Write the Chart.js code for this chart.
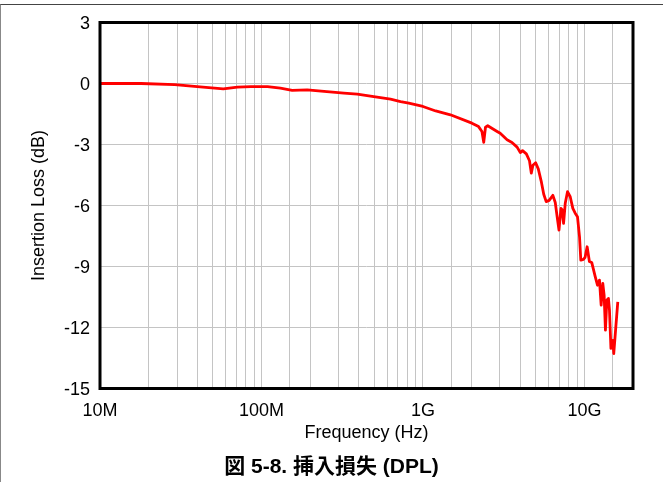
<!DOCTYPE html>
<html>
<head>
<meta charset="utf-8">
<script src="https://cdn.jsdelivr.net/npm/chart.js@4/dist/chart.umd.min.js"></script>
<style>
  html, body { margin: 0; padding: 0; background: #fff; }
  #wrap { position: relative; width: 663px; height: 482px; overflow: hidden; }
  #frame { position: absolute; left: 0; top: 4px; width: 700px; height: 500px;
           border-top: 1px solid #444; border-left: 1px solid #888; }
  #caption { position: absolute; left: 0; top: 453px; width: 663px; height: 26px;
             line-height: 26px; text-align: center; font-weight: bold; font-size: 21px;
             font-family: "Liberation Sans", "Noto Sans CJK JP", sans-serif; color: #000; }
</style>
</head>
<body>
<div id="wrap">
  <canvas id="chart" width="663" height="482"></canvas>
  <div id="frame"></div>
  <div id="caption">図 5-8. 挿入損失 (DPL)</div>
</div>
<script>
// frequency points (Hz) and insertion loss (dB)
const freqHz = [
  1e7, 1.8e7, 2.9e7, 4.0e7, 5.8e7, 7.1e7, 8.6e7, 1.09e8, 1.31e8, 1.55e8,
  1.92e8, 2.44e8, 3.24e8, 3.92e8, 4.96e8, 6.3e8, 7.27e8, 8.17e8, 1.0e9, 1.2e9,
  1.48e9, 2.01e9, 2.21e9, 2.32e9, 2.38e9, 2.44e9, 2.52e9, 2.88e9, 3.01e9, 3.32e9,
  3.56e9, 3.83e9, 4.01e9, 4.14e9, 4.37e9, 4.57e9, 4.69e9, 4.8e9, 4.99e9, 5.18e9,
  5.4e9, 5.6e9, 5.8e9, 6.05e9, 6.38e9, 6.6e9, 6.82e9, 6.96e9, 7.16e9, 7.29e9,
  7.43e9, 7.61e9, 7.86e9, 8.17e9, 8.48e9, 8.77e9, 9.06e9, 9.33e9, 9.5e9, 9.87e9,
  1.01e10, 1.04e10, 1.074e10, 1.11e10, 1.167e10, 1.205e10, 1.24e10, 1.27e10, 1.30e10, 1.325e10,
  1.35e10, 1.377e10, 1.409e10, 1.43e10, 1.46e10, 1.50e10, 1.52e10, 1.56e10, 1.61e10
];
const lossDb = [
  0, 0, -0.06, -0.15, -0.26, -0.18, -0.15, -0.15, -0.23, -0.34,
  -0.31, -0.39, -0.47, -0.52, -0.64, -0.77, -0.89, -0.97, -1.13, -1.35,
  -1.54, -1.95, -2.12, -2.36, -2.89, -2.15, -2.08, -2.36, -2.45, -2.77,
  -2.9, -3.13, -3.4, -3.3, -3.46, -3.8, -4.41, -4.02, -3.9, -4.2,
  -4.8, -5.45, -5.81, -5.75, -5.5, -5.85, -6.71, -7.21, -6.14, -6.22,
  -6.88, -5.89, -5.32, -5.57, -6.14, -6.38, -6.55, -7.54, -8.69, -8.65,
  -8.55, -8.03, -8.75, -8.8, -9.5, -9.92, -9.67, -10.9, -9.83, -10.41,
  -12.13, -10.66, -10.57, -11.15, -13.03, -12.63, -13.28, -12.13, -10.74
];

const xTickValues = [1e7, 1e8, 1e9, 1e10];
const xTickLabels = ['10M', '100M', '1G', '10G'];
const yTickValues = [3, 0, -3, -6, -9, -12, -15];

const tickFont = { family: "'Liberation Sans', Arial, sans-serif", size: 18 };

const points = freqHz.map((f, i) => ({ x: f, y: lossDb[i] }));

// thick black box round the plot area
const plotFrame = {
  id: 'plotFrame',
  afterDatasetsDraw(chart) {
    const { ctx, chartArea: a } = chart;
    ctx.save();
    ctx.strokeStyle = '#000';
    ctx.lineWidth = 3;
    ctx.strokeRect(a.left, a.top, a.right - a.left, a.bottom - a.top);
    ctx.restore();
  }
};

new Chart(document.getElementById('chart'), {
  type: 'line',
  data: {
    datasets: [{
      data: points,
      borderColor: '#ff0000',
      borderWidth: 2.8,
      pointRadius: 0,
      tension: 0,
      borderJoinStyle: 'round',
      fill: false
    }]
  },
  options: {
    responsive: false,
    animation: false,
    layout: { padding: { left: 0, right: 30, top: 22.5, bottom: 38.2 } },
    plugins: { legend: { display: false }, tooltip: { enabled: false } },
    scales: {
      x: {
        type: 'logarithmic',
        min: 1e7,
        max: 2e10,
        afterFit: s => { s.height = 55.3; },
        border: { display: false },
        grid: { color: '#c4c4c4', lineWidth: 1, drawTicks: false },
        ticks: {
          autoSkip: false, maxRotation: 0, minRotation: 0, padding: 12,
          color: '#000', font: tickFont,
          callback: v => {
            const i = xTickValues.findIndex(t => Math.abs(t - v) / t < 1e-6);
            return i >= 0 ? xTickLabels[i] : '';
          }
        },
        title: {
          display: true, text: 'Frequency (Hz)', color: '#000',
          font: tickFont, padding: { top: 0, bottom: 0 }
        }
      },
      y: {
        min: -15,
        max: 3,
        afterFit: s => { s.width = 100; },
        afterBuildTicks: s => { s.ticks = yTickValues.map(v => ({ value: v })); },
        border: { display: false },
        grid: { color: '#c4c4c4', lineWidth: 1, drawTicks: false },
        ticks: {
          padding: 10, labelOffset: 1.5, color: '#000', font: tickFont,
          callback: v => String(v)
        },
        title: {
          display: true, text: 'Insertion Loss (dB)', color: '#000',
          font: tickFont, padding: { top: 28, bottom: 0 }
        }
      }
    }
  },
  plugins: [plotFrame]
});
</script>
</body>
</html>
